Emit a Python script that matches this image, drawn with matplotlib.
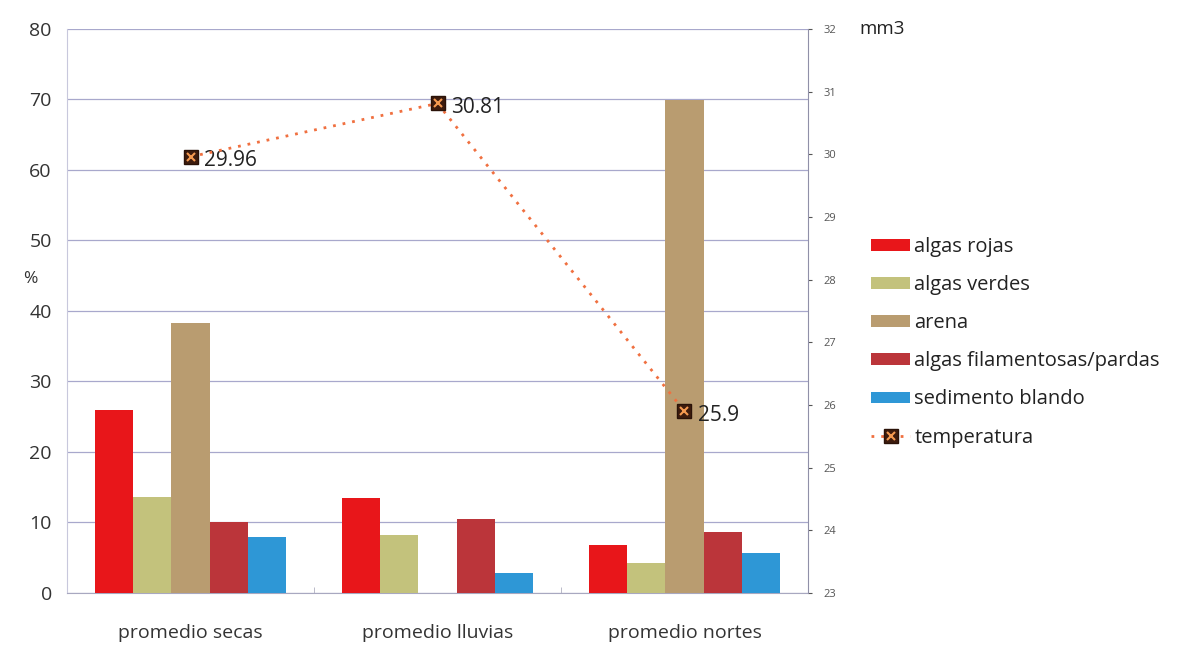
import numpy as np
from matplotlib import pyplot as plt
from matplotlib.legend_handler import HandlerTuple

plt.rcParams['font.family'] = ['Open Sans', 'DejaVu Sans']

# datos
categorias = ['promedio secas', 'promedio lluvias', 'promedio nortes']
algas_rojas = [26.0, 13.5, 6.8]
algas_verdes = [13.6, 8.2, 4.3]
arena = [38.3, 0.0, 69.9]
algas_filamentosas = [10.1, 10.5, 8.6]
sedimento_blando = [8.0, 2.9, 5.6]
temperatura = [29.96, 30.81, 25.9]

series = [
    ('algas rojas', algas_rojas, '#e8161a'),
    ('algas verdes', algas_verdes, '#c3c27c'),
    ('arena', arena, '#b99c70'),
    ('algas filamentosas/pardas', algas_filamentosas, '#bb353a'),
    ('sedimento blando', sedimento_blando, '#2e97d6'),
]

fig = plt.figure(figsize=(11.78, 6.59), dpi=100)
ax = fig.add_axes([0.0569, 0.1002, 0.629, 0.856])
ax2 = ax.twinx()

x = np.arange(len(categorias))
w = 0.155
handles = []
for i, (nombre, vals, color) in enumerate(series):
    b = ax.bar(x + (i - 2) * w, vals, w, color=color, label=nombre, zorder=3)
    handles.append(b)

ax.set_xlim(-0.5, 2.5)
ax.set_ylim(0, 80)
ax.set_yticks(range(0, 81, 10))
ax.set_xticks(x)
ax.set_xticklabels(categorias, fontsize=14, color='#333333')
ax.tick_params(axis='x', length=0, pad=22)
ax.set_xticks([0.5, 1.5], minor=True)
ax.tick_params(axis='x', which='minor', length=4, color='#b0b0c0', direction='in')
ax.tick_params(axis='y', length=0, labelsize=14, colors='#333333', pad=11)
ax.grid(axis='y', color='#a8a8cc', linewidth=0.9, zorder=0)
for s in ['top', 'right']:
    ax.spines[s].set_visible(False)
ax.spines['left'].set_color('#c8c8dc')
ax.spines['bottom'].set_color('#a8a8c0')
ax.text(-0.049, 0.557, '%', transform=ax.transAxes, fontsize=12.5, color='#333333',
        ha='center', va='center')

# temperatura
ax2.set_ylim(23, 32)
ax2.set_yticks(range(23, 33))
ax2.tick_params(axis='y', labelsize=8, colors='#555555', length=3, pad=8)
for s in ['top', 'left', 'bottom']:
    ax2.spines[s].set_visible(False)
ax2.spines['right'].set_color('#9090a8')
ln, = ax2.plot(x, temperatura, linestyle=(0, (1, 2.5)), color='#f07040',
               linewidth=2, marker='s', markersize=9.5, markerfacecolor='#3e1c0e',
               markeredgecolor='#2a1208', zorder=5)
mx, = ax2.plot(x, temperatura, linestyle='none', marker='x', markersize=5.5,
               markeredgecolor='#f59a50', markeredgewidth=1.5, zorder=6)
for xi, t in zip(x, temperatura):
    ax2.annotate(f'{t:g}', (xi, t), xytext=(10, -3), textcoords='offset points',
                 fontsize=15, color='#222222', va='center')
ax2.text(1.07, 1.0, 'mm3', transform=ax2.transAxes, fontsize=13.5,
         color='#222222', va='center')
ax.set_zorder(1)
ax.patch.set_visible(False)
ax2.set_zorder(2)

labels = [s[0] for s in series] + ['temperatura']
leg = fig.legend(handles + [(ln, mx)], labels, loc='upper left',
                 bbox_to_anchor=(0.724, 0.668), frameon=False, fontsize=14.5,
                 handlelength=1.95, handleheight=0.5, handletextpad=0.2,
                 labelspacing=0.9, labelcolor='#222222',
                 handler_map={tuple: HandlerTuple(ndivide=1)})

fig.savefig('out.png', dpi=100)
